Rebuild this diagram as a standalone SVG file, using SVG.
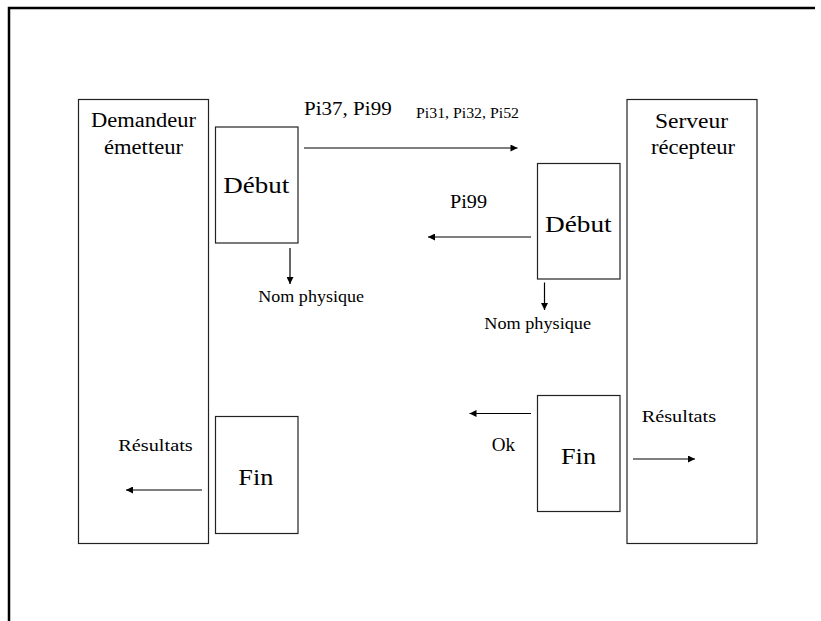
<svg xmlns="http://www.w3.org/2000/svg" width="821" height="621" viewBox="0 0 821 621">
<defs>
<style>
.box{fill:#fff;stroke:#222;stroke-width:1.2}
.t{font-family:"Liberation Serif","Times New Roman",serif;fill:#000}
.ln{stroke:#000;stroke-width:1.2;fill:none}
</style>
<marker id="arr" viewBox="0 0 10 10" refX="10" refY="5" markerWidth="9" markerHeight="7" markerUnits="userSpaceOnUse" orient="auto">
<path d="M0,0 L10,5 L0,10 z" fill="#000"/>
</marker>
</defs>
<rect width="821" height="621" fill="#fff"/>
<path d="M9,621 V8 H815" fill="none" stroke="#000" stroke-width="2.5"/>

<g id="demandeur">
<rect class="box" x="78.5" y="99.5" width="130" height="444"/>
<text class="t" x="91" y="127" font-size="20" textLength="105" lengthAdjust="spacingAndGlyphs">Demandeur</text>
<text class="t" x="104" y="154" font-size="20" textLength="79" lengthAdjust="spacingAndGlyphs">émetteur</text>
</g>
<g id="serveur">
<rect class="box" x="627" y="99.5" width="130" height="444"/>
<text class="t" x="655" y="127.5" font-size="20" textLength="73" lengthAdjust="spacingAndGlyphs">Serveur</text>
<text class="t" x="651" y="154" font-size="20" textLength="84" lengthAdjust="spacingAndGlyphs">récepteur</text>
</g>
<g id="debut-gauche">
<rect class="box" x="215.5" y="127" width="82.5" height="116"/>
<text class="t" x="223.3" y="193" font-size="23" textLength="66" lengthAdjust="spacingAndGlyphs">Début</text>
</g>
<g id="debut-droite">
<rect class="box" x="537.5" y="163.5" width="82.5" height="115.5"/>
<text class="t" x="545" y="231.5" font-size="23" textLength="66.7" lengthAdjust="spacingAndGlyphs">Début</text>
</g>
<g id="fin-gauche">
<rect class="box" x="215.5" y="416.5" width="82.5" height="117"/>
<text class="t" x="238.3" y="485" font-size="24" textLength="35" lengthAdjust="spacingAndGlyphs">Fin</text>
</g>
<g id="fin-droite">
<rect class="box" x="537.5" y="395.5" width="82.5" height="116"/>
<text class="t" x="561" y="463.5" font-size="24" textLength="35" lengthAdjust="spacingAndGlyphs">Fin</text>
</g>

<g id="connectors">
<line class="ln" x1="304" y1="148" x2="517.5" y2="148" marker-end="url(#arr)"/>
<line class="ln" x1="531" y1="237" x2="428" y2="237" marker-end="url(#arr)"/>
<line class="ln" x1="290" y1="248" x2="290" y2="284" marker-end="url(#arr)"/>
<line class="ln" x1="544.5" y1="282.5" x2="544.5" y2="310" marker-end="url(#arr)"/>
<line class="ln" x1="531" y1="413.5" x2="469.5" y2="413.5" marker-end="url(#arr)"/>
<line class="ln" x1="633" y1="459" x2="695" y2="459" marker-end="url(#arr)"/>
<line class="ln" x1="202" y1="490" x2="126" y2="490" marker-end="url(#arr)"/>
</g>

<g id="labels">
<text class="t" x="304" y="115" font-size="19" textLength="87.7" lengthAdjust="spacingAndGlyphs">Pi37, Pi99</text>
<text class="t" x="416" y="118" font-size="14" textLength="103" lengthAdjust="spacingAndGlyphs">Pi31, Pi32, Pi52</text>
<text class="t" x="450" y="208" font-size="18" textLength="37" lengthAdjust="spacingAndGlyphs">Pi99</text>
<text class="t" x="258.3" y="302" font-size="16" textLength="105.7" lengthAdjust="spacingAndGlyphs">Nom physique</text>
<text class="t" x="484.3" y="328.5" font-size="16" textLength="106.7" lengthAdjust="spacingAndGlyphs">Nom physique</text>
<text class="t" x="118.3" y="451" font-size="17" textLength="74.4" lengthAdjust="spacingAndGlyphs">Résultats</text>
<text class="t" x="641.7" y="421.7" font-size="17" textLength="74.4" lengthAdjust="spacingAndGlyphs">Résultats</text>
<text class="t" x="491.7" y="451" font-size="18" textLength="23.3" lengthAdjust="spacingAndGlyphs">Ok</text>
</g>
</svg>
